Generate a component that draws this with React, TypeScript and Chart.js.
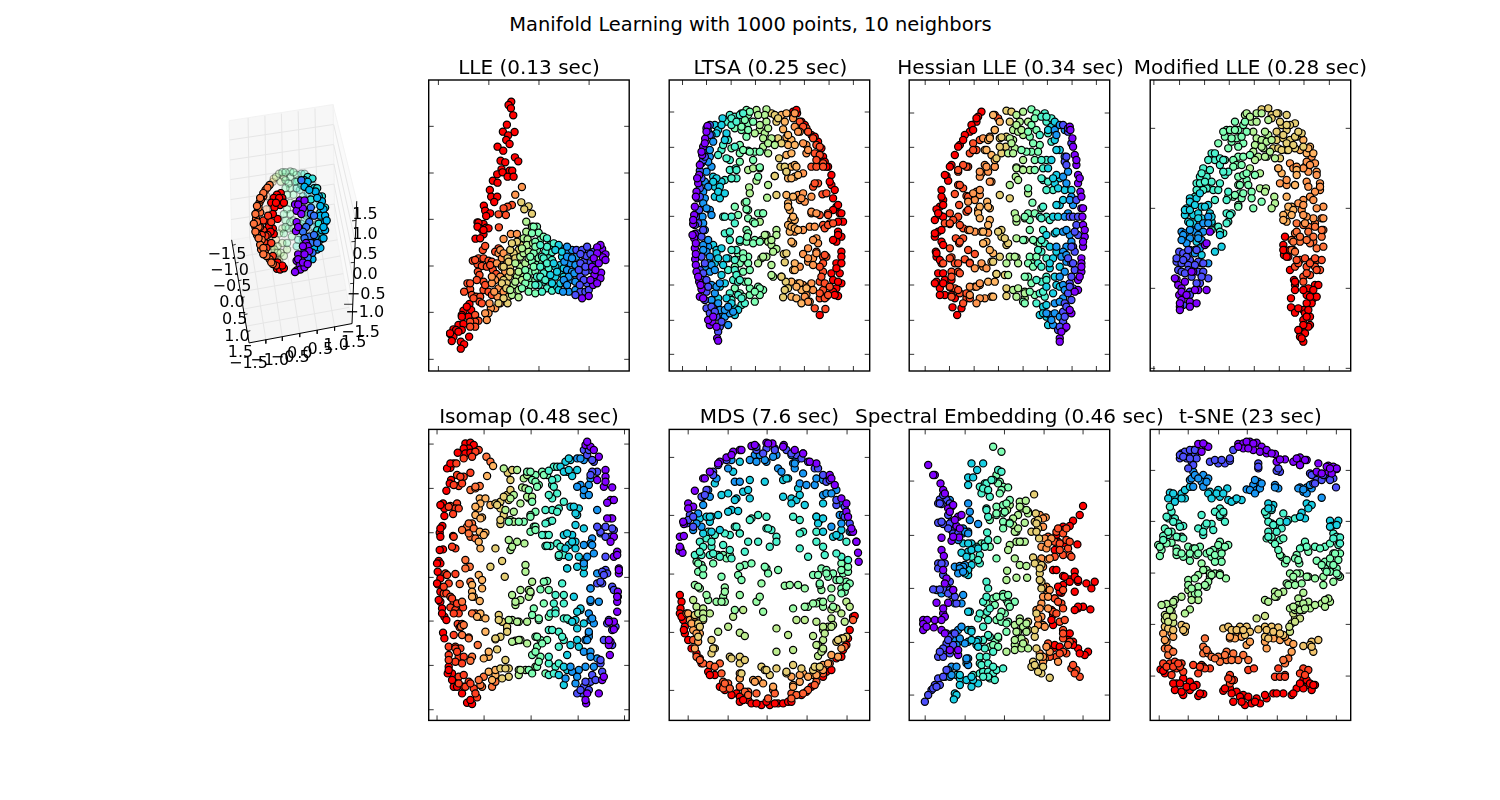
import React, { useEffect, useRef } from "react";
import { Chart, registerables } from "chart.js";
Chart.register(...registerables);

const FONT = '"DejaVu Sans", sans-serif';
const mainTitle = "Manifold Learning with 1000 points, 10 neighbors";

// Every band: [colour position, x, y, x, y, ...].
const lleBands = [
[0,545,597,555,613,547,622,555,630,540,585,530,592,542,668,540,685,522,675,485,745,505,738,518,705,530,700,530,610,520,625,535,640,515,650,525,660,510,690],
[0.1,505,605,520,605,525,640,505,640,490,635,510,660,520,690,500,700,480,725,495,725,505,720,480,680,495,665,468,600,485,600,498,618,480,640,500,590,510,612,495,650,480,612,475,660,490,690,478,705,465,735],
[0.2,445,605,468,620,450,640,465,645,440,660,455,665,470,670,450,690,465,695,435,700,445,725,428,725,465,720,432,635,440,620,455,600,440,590,455,625,445,680,430,690,462,670,440,705],
[0.3,420,595,438,597,425,620,420,645,405,650,420,670,430,680,405,680,410,710,415,720,390,675,395,700,415,585,405,600,425,605,430,655,400,640,410,665,420,700],
[0.4,395,607,380,565,390,585,375,605,385,625,395,630,365,620,375,645,360,650,385,655,370,670,370,695,380,715,395,722,350,680,355,705,365,725,400,580,380,590,360,585,370,625,390,680,380,640,360,680,345,705,375,690],
[0.5,350,530,340,530,355,548,360,570,345,575,350,600,340,610,355,625,335,635,350,645,330,665,345,665,328,690,345,690,330,705,315,700,325,725,345,730,370,560,335,550,345,590,365,640,330,620,315,660,340,650,320,680,305,715],
[0.6,318,515,335,530,318,545,310,565,322,568,300,620,310,610,325,605,300,650,290,680,280,705,295,720,275,735,295,742,320,585,338,580,315,640,310,680,325,625,305,595,285,640,295,665,305,690,270,720,285,695],
[0.7,300,585,290,575,295,600,280,610,270,600,262,625,270,650,280,670,265,680,250,690,260,700,265,740,262,760,250,745,235,760,335,491,325,469,312,478,303,457,290,640,275,580,285,625,265,635,250,650,245,700,258,715,270,665],
[0.8,250,567,272,552,290,552,235,610,245,625,230,640,245,650,260,640,255,665,240,680,225,690,215,700,235,715,250,725,232,740,240,760,225,775,212,775,205,790,195,790,200,810,305,411,285,434,240,600,215,680,222,725,208,760,250,610],
[0.9,158,632,175,625,190,625,205,632,172,643,185,648,200,650,173,665,178,675,215,635,235,595,225,605,218,660,228,672,190,695,142,700,150,718,132,725,155,735,168,740,180,740,190,720,205,725,215,735,178,755,275,465,262,470,250,475,235,493,257,495,236,532,188,600,195,588,165,795,175,812,165,815,150,815,165,830,150,830,210,645,165,630,150,700,160,745,195,705,170,690,185,760],
[1,273,155,265,165,272,175,279,196,260,224,248,245,283,246,264,256,258,270,268,282,232,290,249,302,241,332,284,322,294,334,255,337,244,358,268,362,276,362,231,373,247,367,262,380,280,380,218,392,232,398,209,420,213,440,231,440,222,456,191,467,195,482,210,490,198,498,172,517,190,522,198,533,184,537,205,535,190,553,166,566,180,565,148,762,130,782,153,780,125,795,145,800,115,825,130,822,100,838,90,852,108,840,125,840,100,860,95,873,147,860,122,875,132,883,122,896,90,850,115,845,125,800,140,770,175,518,172,530,190,540],
];
const ltsaBands = [
[0,143,228,136,266,127,315,130,290,118,375,115,400,110,425,105,470,103,495,100,522,105,552,103,565,105,595,106,628,108,645,110,665,118,695,125,718,120,740,150,825,172,865,175,872,158,815,170,830,140,245,135,280,125,305,120,345,112,385,108,440,100,510,98,555,108,580,108,612,115,680,122,705,130,745,145,810,160,800],
[0.1,145,245,150,225,125,340,130,330,120,362,112,445,120,440,118,480,108,500,115,520,120,552,112,550,125,560,120,660,130,670,128,690,140,725,135,750,140,775,150,790,160,775,170,800,180,830,175,845,140,235,150,255,135,320,125,385,120,415,105,525,130,540,125,620,135,640,140,690,145,710,155,770,165,785,185,815],
[0.2,155,255,135,300,150,320,155,350,135,395,145,410,130,425,135,445,150,480,128,500,145,590,130,585,140,605,150,620,145,640,150,665,135,650,155,705,165,730,155,750,175,760,190,795,205,825,195,800,210,790,220,785,160,275,150,300,145,335,140,365,130,460,140,475,155,495,130,520,135,540,145,570,130,600,155,645,165,660,170,710,180,700,180,780,195,780,205,770],
[0.3,165,225,175,240,188,205,200,250,160,380,185,395,165,410,165,440,180,410,180,445,160,585,170,600,185,595,165,640,185,675,180,710,175,745,205,790,225,775,235,780,170,250,185,225,195,270,170,385,160,395,175,425,195,430,170,610,175,625,200,625,190,645,195,700,200,745,215,760,225,795],
[0.4,210,195,225,200,200,215,215,225,240,195,185,300,175,315,210,330,200,325,195,390,215,385,230,385,210,360,228,355,190,500,215,500,195,550,210,545,210,570,205,625,225,630,205,660,230,600,220,690,235,695,210,730,210,745,235,735,245,765,255,760,215,205,230,215,250,190,190,285,205,270,225,290,230,360,215,385,195,500,225,520,240,570,215,600,225,660,230,675,240,690,215,750,245,745],
[0.5,260,180,245,190,265,195,240,215,265,220,225,235,200,260,245,240,260,260,240,285,215,295,240,310,265,302,285,305,280,330,225,470,260,455,265,480,235,495,265,505,280,515,260,540,265,550,240,575,260,575,285,570,235,610,265,620,240,640,265,640,225,650,250,665,255,695,225,715,240,730,250,740,270,735,285,755,270,715,295,710,310,720,270,185,255,210,280,215,245,230,265,240,250,300,270,305,300,305,240,335,300,352,295,380,260,478,295,490,310,490,285,520,262,560,280,580,300,575,250,610,250,625,270,660,265,695,300,715,300,735,285,725],
[0.6,290,180,320,178,315,195,295,195,320,215,300,240,285,250,315,250,335,265,310,290,325,310,265,360,280,355,300,355,290,392,325,405,268,412,270,430,255,458,322,443,308,490,300,515,320,555,305,570,350,540,350,555,325,575,335,585,350,597,320,620,305,625,295,640,335,645,340,680,300,225,325,235,310,265,325,280,345,285,315,555,335,570,340,605,310,620,335,675],
[0.7,335,190,345,195,350,215,340,268,355,270,358,325,345,378,362,350,375,350,350,435,372,612,375,637,365,680,378,695,370,742,385,715,355,205,355,265,365,280,345,378,380,365,365,680,380,610,375,720],
[0.75,365,195,380,190,370,238,380,262,395,270,385,285,380,315,395,310,380,365,395,350,405,345,385,385,405,380,380,435,385,460,390,480,395,510,405,510,385,525,390,545,400,580,405,640,400,660,395,695,415,700,395,740,410,745,425,760,375,215,385,255,405,285,395,385,410,350,415,375,400,440,385,470,400,500,395,530,405,535,415,540,395,575,405,660,420,700,425,720,410,710,440,715],
[0.8,400,205,405,230,420,245,440,285,440,310,430,370,415,435,430,430,455,440,420,450,435,455,455,490,405,545,430,540,450,530,470,565,475,580,445,595,430,612,445,635,460,625,420,650,430,705,445,710,440,735,450,755,405,190,415,245,430,280,445,300,425,445,455,485,470,490,465,530,460,570,470,610,445,625,460,645,455,700,460,720,435,740,445,755],
[0.9,420,215,440,235,470,285,465,310,480,315,455,350,470,350,490,340,460,410,475,400,488,433,480,495,505,490,490,525,510,520,470,605,490,620,500,620,490,640,490,665,480,695,490,720,480,745,500,740,465,775,497,777,430,230,445,245,460,265,480,290,470,330,490,350,465,400,500,430,505,495,495,535,505,525,520,520,495,615,480,650,485,680,495,700,510,710,480,730,495,745,505,735],
[1,400,185,412,190,425,215,455,255,475,275,490,320,505,350,515,375,515,405,520,445,530,470,540,490,550,515,535,545,545,560,530,575,545,605,545,620,530,640,515,670,540,670,545,700,530,715,520,725,535,738,480,795,410,180,400,195,435,225,445,245,465,260,485,295,495,335,500,350,510,395,525,420,535,465,520,480,545,490,535,515,535,555,520,570,545,640,530,655,520,690,535,695,525,735],
];
const hessianBands = [
[0,510,230,518,265,525,315,530,345,535,375,535,400,542,425,545,475,548,500,550,525,555,560,550,590,545,625,545,640,545,665,535,690,535,720,515,790,500,830,480,865,480,875,512,240,520,290,530,330,540,385,545,440,550,475,555,540,550,575,545,650,540,680,525,725,510,780,485,845],
[0.1,490,225,505,245,495,335,500,345,510,500,520,500,530,525,535,555,520,590,525,605,515,640,525,660,510,700,520,715,505,730,515,750,495,760,490,785,490,815,495,835,475,840,505,235,515,280,500,320,530,450,535,500,525,545,515,590,505,625,520,640,515,680,510,710,500,770,495,800,480,830],
[0.2,465,240,480,225,495,320,490,380,515,440,520,465,505,490,490,545,510,555,500,590,490,605,470,590,500,635,495,665,490,705,490,745,465,760,450,795,440,790,460,825,495,240,470,255,505,365,500,400,510,450,495,500,500,540,515,575,485,620,500,615,480,680,495,720,480,755,465,790,480,800,455,810],
[0.3,455,230,465,270,480,300,455,330,480,385,465,400,495,420,515,420,480,465,470,465,460,500,465,550,440,555,460,625,480,650,450,655,465,680,470,705,440,710,430,770,420,795,440,800,465,215,445,240,470,300,445,355,470,375,460,385,475,415,490,450,475,500,470,545,450,590,470,605,450,640,480,710,460,730,440,765,430,790,445,825],
[0.4,435,190,440,215,455,205,445,250,440,330,430,355,430,390,445,395,460,420,430,470,420,500,440,500,430,540,435,580,440,625,425,605,440,680,425,695,420,730,435,740,410,760,425,200,440,200,420,255,455,275,425,330,425,385,440,420,425,505,450,510,425,570,415,600,415,640,425,650,440,690,410,690,430,725],
[0.5,395,178,410,190,395,225,410,240,390,260,420,285,395,305,415,305,405,330,385,415,398,458,425,475,385,490,390,510,390,540,410,575,420,580,390,620,395,640,385,680,395,700,405,735,370,755,405,205,385,245,400,280,380,305,365,300,405,360,375,500,405,490,370,570,400,570,385,640,410,620,400,650,375,680,390,725,375,760],
[0.6,370,185,350,195,360,215,385,215,370,255,340,240,355,245,340,270,345,295,325,310,370,330,350,352,368,358,390,360,348,380,355,390,345,490,350,515,375,505,350,565,375,570,330,620,350,622,355,640,340,720,355,715,375,725,350,740,375,745,350,225,365,240,330,265,335,280,340,310,350,355,370,360,330,405,385,430,350,505,320,640,345,620,325,675,375,730],
[0.7,320,182,335,185,320,260,300,265,318,290,290,325,305,310,330,445,300,435,320,585,305,540,305,560,325,580,315,675,320,715,320,738,330,215,305,262,300,290,295,545,315,565,300,620,280,635,290,672],
[0.75,280,195,300,215,285,240,265,270,255,300,275,315,262,455,270,475,240,470,235,490,240,505,270,510,265,525,250,580,280,610,275,635,290,672,265,695,285,695,280,740,285,240,270,265,285,330,260,300,265,470,250,545,260,575,250,580,270,600],
[0.8,250,265,270,260,255,345,285,350,245,370,265,365,240,380,275,395,230,425,240,435,225,450,205,455,225,545,245,545,265,548,250,650,225,655,245,640,240,705,225,710,210,710,255,745,240,745,230,760,210,735,240,365,260,350,270,395,285,350,220,430,240,420,235,480,210,540,260,655,230,710,240,700,275,740],
[0.9,285,195,295,205,230,300,210,310,220,280,205,350,175,365,175,405,190,415,165,432,200,438,178,465,150,490,175,500,200,485,135,520,150,522,190,535,205,540,168,565,190,565,150,595,178,580,205,600,225,612,155,622,195,628,210,638,130,640,165,640,155,665,175,665,200,745,150,712,165,715,180,730,155,740,200,730,240,270,220,300,200,350,190,345,175,360,180,405,205,440,205,480,160,510,180,525,150,520,180,575,150,625,175,640,210,640,180,670,155,680,150,710,175,720,190,760,210,745],
[1,245,185,235,200,230,215,215,225,210,245,195,255,180,285,165,315,155,345,140,378,145,392,125,420,130,450,120,470,110,478,105,510,120,495,130,500,115,545,105,560,125,575,108,605,110,620,125,640,115,670,130,670,110,695,120,715,135,690,155,690,135,735,158,772,172,795,185,775,165,745,230,205,220,240,190,270,175,290,150,350,135,375,125,440,130,465,115,490,125,540,105,550,130,585,110,610,120,630,105,700,130,700,120,735,155,735],
];
const modifiedBands = [
[0,110,688,115,705,125,715,118,735,125,750,120,770,120,780,150,755,170,760,150,770,200,720,160,665,195,585,210,545,175,720,135,695,105,685,125,725,120,760,140,735,155,665,165,720,200,580],
[0.1,118,605,110,635,125,640,115,660,125,665,150,630,145,645,155,680,175,665,185,640,130,610,140,620,205,685,180,700,190,665,175,635,170,700,150,725,130,765,110,625,130,630,145,660,135,670,165,645,190,640,185,680,150,735,170,600,145,600],
[0.2,125,545,130,570,150,565,165,545,175,530,190,520,205,500,150,600,165,600,180,595,190,545,205,640,135,550,185,570,130,555,150,540,175,555,140,580,150,605,175,565,205,520,125,570,165,610],
[0.3,140,475,150,445,135,495,145,515,160,495,175,490,170,445,185,470,205,465,180,430,165,540,215,515,225,605,245,590,185,615,170,575,150,455,135,480,150,480,160,520,165,465,195,470,210,490,185,505,150,520,175,505,215,500,240,555],
[0.4,190,355,180,380,170,400,190,400,200,380,210,360,215,310,225,330,240,325,205,415,220,420,235,420,225,450,255,375,265,365,265,425,260,450,260,490,275,490,235,530,250,550,265,515,215,540,185,370,180,400,200,415,215,395,240,345,225,310,205,330,195,395,240,400,250,330,250,365,270,495,260,520,240,545,215,520,190,420,170,420,165,440],
[0.5,260,240,255,260,235,280,275,275,265,295,285,215,295,240,310,225,290,265,310,280,320,245,295,320,280,330,255,330,290,345,305,345,295,380,320,390,295,405,325,405,300,430,280,440,305,445,295,465,335,425,335,445,340,475,365,455,250,245,270,240,285,240,315,215,305,260,275,265,295,290,310,320,330,315,280,350,310,375,320,370,345,375,300,405,265,440,285,435,310,430,295,470],
[0.6,315,195,335,215,350,190,340,245,350,265,345,285,365,270,340,305,355,320,345,375,360,370,330,355,360,415,378,415,375,425,403,440,405,460,395,475,385,255,370,295,380,320,320,190,330,200,350,215,365,190,385,210,375,245,380,275,365,290,345,330,390,305,405,325,375,320,395,270],
[0.7,365,178,385,175,395,195,415,190,440,195,425,225,410,245,440,240,465,220,450,225,410,270,430,265,420,325,400,295,415,295,440,300,450,270,470,260,485,250,465,295,410,190,395,205,420,215,440,225,430,255,440,280,465,260,460,285,425,300,445,300,490,290,475,245],
[0.75,490,270,510,290,480,300,500,310,440,440,455,470,445,485,430,495,440,515,415,355,425,370,470,360,465,405,505,295,520,310,445,470,460,480,455,495,430,510,415,355,470,375],
[0.8,515,320,525,340,495,350,505,365,530,365,450,340,460,355,420,400,440,405,500,395,505,410,540,400,540,420,525,425,510,440,490,450,475,460,485,480,520,505,500,500,550,470,530,475,530,375,500,335,510,345,490,355,440,390,465,405,470,350,540,410,490,465,520,450,490,495,495,520,550,505],
[0.85,545,505,525,520,550,540,505,530,470,520,490,525,545,560,520,575,510,580,530,595,550,590,465,550,480,575,455,570,455,600,465,605,525,530,505,545,545,540,520,560,470,545,480,560,460,575,500,570],
[0.9,480,630,465,650,500,650,515,635,530,630,545,630,525,650,540,660,490,680,510,675,495,625,475,640,470,630,510,640,525,625,530,660,500,670,490,695],
[1,430,585,435,600,432,615,445,620,450,660,462,690,465,705,465,720,505,715,525,705,535,705,500,735,520,745,515,760,500,760,490,780,453,745,453,772,465,788,495,790,510,800,490,810,510,825,490,835,480,845,495,850,480,860,490,875,435,560,460,600,440,620,430,600,450,600,465,695,490,720,520,720,530,740,510,740,505,780,475,775,500,800,505,830,490,825,485,865,475,840],
];
const isomapBands = [
[0,495,135,510,140,520,150,535,170,555,210,555,230,550,260,575,262,570,300,560,308,570,355,575,355,580,410,570,425,590,455,580,470,595,505,595,520,592,575,592,590,590,605,590,635,580,665,580,688,570,725,565,735,568,765,545,840,535,880,497,910,500,880,500,125,530,240,555,245,580,300,560,355,590,465,595,510,590,590,565,665,565,720,550,830,495,900],
[0.1,490,150,500,165,520,185,530,215,515,215,540,395,555,380,580,390,570,410,555,470,555,510,560,520,545,515,545,550,530,550,575,560,565,660,585,680,550,720,575,735,540,790,545,815,510,845,490,860,505,870,485,880,470,880,515,825,505,150,515,180,510,225,530,380,575,385,555,410,550,525,540,545,580,570,560,670,575,690,540,780,525,840,495,845,480,870],
[0.2,470,175,490,180,510,235,505,255,480,255,490,285,530,330,540,400,515,415,510,430,490,435,520,460,530,520,510,565,510,605,535,605,505,640,510,660,520,670,505,700,505,710,495,720,490,755,510,755,530,775,495,800,475,810,455,815,465,850,435,835,480,175,470,260,490,270,505,285,535,385,515,435,500,470,490,490,510,600,515,655,505,695,500,720,510,770,520,800,470,830,450,800],
[0.3,450,180,435,185,420,200,440,215,470,210,455,228,450,320,475,325,470,345,465,375,490,385,430,405,455,405,465,425,445,435,435,445,475,470,490,485,490,520,510,565,460,590,480,630,465,660,490,670,470,685,450,735,440,765,440,810,415,825,430,855,445,175,430,215,445,210,460,320,465,340,440,400,455,425,465,445,445,470,440,505,490,500,470,500,480,625,470,635,455,665,470,720,475,740,430,800],
[0.4,400,200,385,212,410,235,395,255,410,280,395,295,430,305,415,325,395,330,375,330,385,365,395,362,365,405,385,405,375,438,390,438,410,430,415,470,440,505,430,585,425,550,405,585,430,610,405,630,390,640,430,655,445,660,385,690,415,695,430,720,415,740,385,790,405,800,385,825,410,200,395,240,400,260,385,285,410,335,375,370,380,437,420,440,430,465,415,465,400,610,405,640,440,655,395,690,425,710,385,770,415,790,400,820],
[0.5,320,215,345,225,365,215,380,225,355,255,335,240,325,270,335,305,345,335,330,345,340,380,310,365,295,365,265,365,380,543,370,545,360,568,385,570,370,610,340,625,335,645,355,660,385,650,345,710,360,720,380,720,350,740,335,765,360,770,350,800,325,810,375,820,330,215,370,225,345,245,350,260,330,350,345,380,330,395,345,390,375,405,355,655,350,710,365,730,345,755,355,785,335,820],
[0.6,310,235,305,262,325,295,280,285,300,310,280,335,255,330,270,360,265,420,290,425,312,430,270,450,315,495,315,515,335,545,325,570,330,580,275,585,300,600,285,615,320,665,295,665,275,660,285,722,300,720,320,730,295,810,295,825,315,810,345,800,250,205,290,210,270,295,320,225,315,265,320,290,335,290,280,365,275,440,300,570,285,605,325,590,330,575,265,660,290,665,275,725,295,720,300,810],
[0.7,262,218,270,240,260,285,270,270,240,305,225,310,250,345,240,372,225,445,245,483,210,500,253,530,235,645,245,665,240,710,225,718,230,748,255,780,265,805,265,830,245,835,240,805,275,210,265,300,250,290,240,325,240,360,230,315,260,680,260,695,235,660,225,715,255,805],
[0.75,218,198,200,228,178,295,195,295,175,325,165,345,185,352,178,395,195,398,180,445,175,525,185,540,155,555,155,575,160,590,185,565,178,603,180,650,195,655,205,770,190,775,205,815,225,825,260,690,180,310,210,315,165,320,180,355,190,405,175,425,155,590,180,640,170,650,195,695,205,755,225,810,215,840],
[0.85,198,170,210,185,150,270,165,265,178,258,140,380,125,390,155,370,150,410,165,415,118,552,135,480,148,500,122,680,130,675,145,712,125,705,155,770,150,782,172,735,165,640,155,640,190,830,185,860,180,855,215,860,225,845,165,260,145,370,145,400,160,385,150,545,135,505,125,605,145,715,175,840],
[0.92,175,150,165,155,155,170,130,175,108,190,130,230,115,258,125,250,150,218,110,310,90,318,105,325,115,325,98,342,105,445,95,440,98,408,105,522,75,520,85,550,70,580,78,580,90,590,100,608,90,622,105,630,128,622,115,640,112,672,125,672,118,682,100,705,85,740,105,740,120,745,115,770,130,770,85,765,105,785,125,790,115,830,130,825,145,845,135,860,160,865,170,892,110,225,100,255,120,230,85,320,100,410,80,525,70,560,95,595,110,610,100,640,105,745,110,755,85,780,115,850,150,850,165,880],
[1,135,130,150,128,160,135,145,145,130,145,135,160,112,158,150,158,90,203,100,190,92,240,88,250,78,272,68,310,72,325,72,348,66,378,58,398,60,410,68,448,58,450,55,483,60,490,52,515,60,535,52,553,60,575,60,605,65,625,72,650,78,660,68,698,72,715,85,800,95,820,82,820,100,860,125,880,140,908,155,912,150,900,80,205,90,190,60,315,60,385,50,490,50,550,55,600,65,640,85,810,95,840,110,860,130,860],
];
const mdsBands = [
[0,62,445,58,452,68,458,60,410,72,408,72,372,85,310,100,320,105,272,130,235,150,215,180,185,200,172,220,155,240,150,275,138,285,135,320,128,338,130,372,135,405,150,430,160,470,190,510,225,525,255,545,295,560,335,565,350,580,395,590,425,595,458,597,485,85,325,70,365,60,440,135,235,175,190,215,165,245,150,325,130,370,140,430,160,450,185,515,235,560,310,575,385,590,425],
[0.1,90,345,80,370,100,380,125,290,140,270,160,215,175,195,290,150,320,145,345,145,380,150,410,165,445,185,465,205,490,225,500,245,530,315,555,320,570,370,85,360,100,350,135,285,160,225,200,180,290,140,310,160,345,150,395,160,425,175,475,205,510,240,530,300,555,350],
[0.2,100,390,125,380,115,340,130,315,150,290,170,235,205,205,225,245,240,245,285,165,300,165,320,185,350,165,395,165,400,190,355,205,365,215,405,205,430,220,420,250,440,255,465,255,490,285,500,280,530,270,540,345,545,370,570,395,515,380,110,370,130,290,145,270,215,180,270,180,290,185,315,180,340,170,410,180,405,190,470,235,490,240,515,280,545,310,550,345,575,395],
[0.3,120,355,155,350,150,365,130,400,180,390,165,250,220,215,240,185,270,240,315,245,370,240,385,235,415,265,370,290,395,295,410,300,435,315,395,310,490,310,470,350,480,360,540,410,520,410,545,390,490,395,215,330,235,333,205,335,230,295,250,275,265,270,270,295,140,350,150,350,155,395,175,345,185,285,205,280,225,300,380,235,420,285,470,350,475,370,490,355,530,405],
[0.4,120,425,140,415,155,440,125,465,105,465,150,465,180,470,210,405,225,380,240,400,265,425,275,355,295,345,320,350,320,385,335,390,350,410,350,425,330,440,295,425,400,350,420,360,430,395,420,445,445,470,470,425,490,440,495,465,560,425,545,470,565,480,530,460,255,455,190,435,210,450,215,475,165,405,145,395,130,440,155,425,120,455,160,460,195,400,240,400,230,380,270,360,325,385,420,400,470,395],
[0.5,110,485,125,495,115,515,130,525,160,490,190,465,175,465,200,475,255,495,275,490,320,505,325,520,355,510,235,525,245,540,185,530,460,525,485,505,500,510,520,520,505,530,480,550,530,540,550,520,565,515,545,490,560,545,570,550,545,565,555,575,545,580,115,490,130,505,170,465,210,465,240,500,315,500,475,525,500,520,545,510,565,500,540,540,560,560],
[0.55,105,555,120,565,195,562,190,590,240,585,290,605,305,550,375,557,390,555,435,565,485,570,515,595,515,565,480,605,470,610,490,620,445,620,435,620,400,625,195,605,170,605,145,600,140,585,225,630,310,635,460,610,115,560,195,575,185,605,300,590,415,555,480,555,520,620,490,605],
[0.62,100,600,110,620,130,625,150,640,220,650,250,630,515,628,530,625,545,640,560,605,570,620,410,660,435,660,470,665,515,655,520,675,490,690,505,680,555,665,350,685,205,680,175,695,240,698,255,708,385,705,460,708,490,720,475,735,400,750,350,755,475,768,485,755,115,640,130,640,130,655,490,680,515,680,495,700,470,735,490,745],
[0.7,105,645,125,645,130,660,115,670,155,720,165,745,155,760,210,770,240,770,240,790,255,780,305,800,350,805,315,810,330,825,400,795,380,820,425,805,460,810,490,750,545,715,560,710,530,725,120,680,115,710,160,745,215,775,245,820,320,810,380,815,465,800,480,800,550,715,535,720],
[0.78,85,640,90,660,100,690,120,700,115,725,105,745,240,820,240,835,280,840,295,840,310,850,340,860,395,830,420,845,400,855,430,820,460,825,475,815,490,795,515,765,545,745,535,770,105,650,95,670,110,700,240,835,285,845,400,860,420,825,445,830,470,825,490,810,505,790],
[0.88,80,640,100,720,110,770,130,790,150,795,180,790,185,820,190,845,205,850,190,865,240,860,265,875,290,880,340,870,325,895,395,880,410,885,445,870,470,845,490,820,510,790,555,740,580,660,120,780,165,800,195,850,210,865,255,875,265,885,345,880,395,895,430,880,465,855],
[1,60,585,65,605,62,625,60,640,70,660,75,680,75,700,85,720,110,760,125,790,145,815,165,825,195,870,230,880,215,885,240,890,265,900,275,910,305,915,330,915,355,910,370,910,385,905,425,885,455,860,500,815,530,775,550,750,565,715,570,690,580,650,585,648,65,650,72,690,95,745,120,775,150,825,180,860,240,905,250,900,290,910,320,905,345,910,395,905,440,875,490,830,515,810,545,770,560,735],
];
const spectralBands = [
[0,85,195,105,225,122,250,130,270,155,320,145,325,175,350,170,378,178,412,155,422,125,413,125,450,132,468,140,535,110,608,145,608,130,640,135,650,70,660,82,660,105,660,70,672,102,682,70,690,125,690,135,700,175,765,100,225,135,280,160,315,150,335,185,345,165,360,180,385,160,410,130,510,135,550,160,570,130,625,125,660,80,680,175,750,150,750],
[0.1,135,290,120,298,140,300,115,310,125,312,145,345,155,365,115,368,130,372,155,390,165,390,115,490,135,490,115,505,130,525,150,545,140,560,135,570,150,570,100,568,120,568,155,585,170,610,165,590,140,700,150,710,140,730,130,760,160,745,150,760,115,770,130,770,75,905,95,870,105,855,115,835,130,830,120,855,130,285,120,310,150,310,150,370,125,365,145,385,160,400,175,400,125,490,160,570,145,580,165,700,160,735,145,720,130,745,120,755,85,885,100,865,110,860,140,810],
[0.2,150,300,190,385,205,395,210,335,205,310,210,360,235,372,190,400,165,500,180,498,195,495,125,580,190,585,165,610,185,610,155,800,145,810,170,800,135,830,150,830,160,700,175,690,185,680,195,730,175,725,205,775,205,795,195,395,175,420,205,400,190,500,180,505,175,520,190,515,110,570,160,720,180,715,170,735,200,780,200,775,155,825],
[0.3,215,190,250,190,232,210,205,232,220,232,205,255,190,430,215,430,205,455,185,458,205,510,205,525,215,495,210,635,205,635,205,690,215,690,235,720,230,735,205,725,170,825,180,835,180,855,165,880,170,885,162,898,200,840,215,860,235,850,205,430,225,445,215,450,235,445,200,470,205,510,195,520,215,695,230,725,235,740,215,720,200,790,220,840,180,825,215,830],
[0.4,240,260,255,250,280,240,295,210,305,215,260,270,245,280,270,290,260,325,265,350,262,397,230,440,255,430,240,465,215,470,240,490,260,545,265,565,235,655,250,605,250,680,262,635,250,720,270,710,280,755,240,770,260,770,240,790,220,825,240,820,250,815,265,815,280,820,290,810,270,835,285,840,310,805,260,250,275,240,250,265,265,270,260,330,255,440,235,480,265,420,260,590,240,640,270,625,265,660,250,720,265,705,255,745,245,795,265,790,280,800,265,830,250,830],
[0.5,280,140,305,155,300,245,310,260,325,262,290,320,310,315,330,300,310,340,290,345,270,360,310,365,330,368,293,420,270,440,245,430,290,475,255,645,280,595,285,615,260,610,310,582,320,600,345,605,325,610,315,640,290,660,305,665,320,695,295,715,270,740,285,725,295,710,290,225,295,250,305,270,300,280,320,310,315,335,290,340,330,370,310,385,290,590,310,590,325,585,330,620,305,635,300,650,325,665,320,670,280,735,295,740],
[0.6,330,315,322,330,360,305,378,302,365,325,340,375,350,395,375,368,385,340,350,425,365,425,330,435,325,450,345,475,360,495,380,498,322,512,320,540,350,533,382,533,360,655,345,675,355,695,378,690,365,715,345,735,320,755,345,750,365,745,385,745,360,320,380,330,355,345,345,395,375,425,355,385,360,425,340,355,360,665,370,680,380,695,350,695,370,730,380,670,345,720],
[0.7,403,283,385,335,408,340,405,365,415,385,395,395,418,415,400,472,415,490,425,495,420,520,425,545,385,665,385,690,375,725,405,710,400,785,420,805,425,820,450,833,410,745,415,360,410,395,410,370,405,490,420,505,420,540,425,565,410,640,405,690,395,800,405,795,415,815,430,800,420,770],
[0.8,420,345,438,352,430,380,425,440,440,445,425,475,445,478,440,560,430,560,440,585,425,610,410,630,425,650,430,675,415,675,420,760,435,775,430,785,475,785,430,590,430,355,435,415,455,415,445,430,450,475,430,500,450,570,445,590,420,625,445,625,415,655,435,680,430,770,450,755,440,740],
[0.9,470,395,445,410,465,425,490,400,480,430,465,470,490,465,510,465,515,470,490,570,465,595,485,610,490,625,460,635,480,665,490,690,490,715,510,725,470,770,500,760,515,805,530,810,540,830,450,770,445,730,490,755,475,385,500,385,500,420,480,450,505,445,510,425,465,595,475,605,470,640,495,660,490,700,505,735,480,760,520,795,525,820],
[1,550,318,540,345,520,362,510,378,490,380,470,405,465,450,533,433,460,510,470,510,525,515,490,528,510,538,535,545,585,545,560,550,575,565,525,575,490,555,485,578,455,630,535,625,550,620,572,628,460,675,510,700,520,725,535,745,565,755,555,765,540,760,460,745,490,390,475,425,495,430,480,575,495,530,510,545,525,530,535,540,475,560,535,620,525,630,505,720,520,735,460,645,455,660,465,735,480,740],
];
const tsneBands = [
[0,175,132,195,135,205,140,185,155,295,132,310,130,330,125,350,128,365,140,310,145,340,150,360,155,380,160,405,162,410,185,435,178,460,185,480,172,500,180,480,195,535,190,565,197,580,200,590,207,530,215,565,215,575,220,190,130,295,140,320,125,340,130,325,145,380,150,395,160,420,178,470,175,495,180,480,195,560,200,590,205,570,205,545,220],
[0.1,125,160,145,165,160,150,165,165,120,175,140,175,155,185,170,175,160,195,210,185,235,190,255,190,270,182,280,150,355,190,355,205,420,215,410,212,510,220,530,240,545,240,520,250,555,225,580,235,588,262,135,155,150,150,120,165,165,150,130,170,150,175,145,205,225,180,245,180,270,175,355,200,415,205,515,225,550,225,570,240,525,250],
[0.2,160,215,150,240,160,260,190,225,205,235,185,245,190,260,355,245,340,255,320,268,350,270,360,265,405,255,415,265,480,262,500,262,515,265,490,275,500,280,545,293,155,235,165,225,175,235,200,245,345,240,365,250,330,270,345,280,405,262,475,265,510,255,490,268],
[0.3,90,278,105,290,125,280,135,270,85,295,105,305,135,295,210,275,235,270,262,265,240,290,215,290,205,280,265,300,285,300,305,300,400,315,385,310,500,310,515,315,485,338,495,355,570,362,595,362,575,378,100,280,125,295,150,260,230,280,215,295,250,280,275,305,290,295,395,325,385,325,505,325,480,350,440,365,570,380,590,375],
[0.4,95,335,85,355,105,355,115,370,130,378,185,345,240,325,225,335,250,340,240,350,255,365,215,372,195,378,175,385,190,405,220,390,380,345,375,335,395,330,430,340,445,360,465,355,395,370,410,375,425,385,385,395,580,400,590,410,600,412,90,320,80,350,100,365,120,380,240,345,250,335,200,370,190,395,385,365,400,375,420,365,480,350,410,395,385,410,580,415,600,430],
[0.45,75,385,95,395,85,405,70,408,125,410,115,412,380,415,395,420,420,420,405,432,415,450,495,425,525,440,555,440,570,430,595,435,85,395,70,420,110,410,130,415,395,410,430,415,500,440,480,445,540,445],
[0.5,55,435,70,430,95,428,65,450,60,468,110,445,110,465,130,470,150,482,145,440,160,445,180,440,150,460,170,465,200,460,215,470,240,425,265,435,245,450,220,450,240,470,245,485,225,485,435,490,425,470,470,465,490,440,505,455,478,490,465,475,600,460,580,460,595,480,530,482,555,485,570,490,555,505,570,515,590,505,595,525,60,440,80,430,110,455,125,460,165,445,175,460,210,455,225,465,235,435,245,460,255,440,440,480,420,465,475,480,580,495,570,475,560,515,590,520,545,495,585,460],
[0.55,185,490,175,525,200,510,225,520,240,520,258,535,210,530,145,540,145,555,175,560,200,560,165,580,205,545,240,525,450,520,480,520,505,530,525,535,550,530,550,555,580,545,440,550,460,545,485,550,600,530,190,510,210,520,165,535,155,565,175,580,215,525,195,555,470,520,460,530,445,555,500,530,465,555],
[0.6,125,590,145,570,170,575,155,585,175,600,105,600,100,615,80,612,65,615,150,628,135,640,375,600,385,605,405,575,430,575,410,590,475,595,490,578,505,605,475,615,450,625,465,630,490,630,545,610,570,605,555,620,565,595,510,625,490,610,155,600,100,605,90,630,405,590,415,580,470,625,480,630,460,620,525,615,555,600,495,625],
[0.65,75,645,75,660,95,635,90,660,100,668,350,655,375,648,465,655,455,670,480,655,450,695,448,680,80,650,85,665,100,650,460,640,465,665],
[0.72,75,680,95,685,250,685,265,680,300,680,320,680,330,695,315,705,125,675,138,680,135,695,355,688,375,680,395,680,415,682,430,705,515,725,535,720,510,735,490,738,520,755,375,710,385,715,85,685,100,690,275,690,290,690,310,690,380,690,400,695,130,690,420,700,515,740],
[0.78,70,700,95,700,80,725,270,715,290,710,305,710,320,735,330,725,380,745,375,725,410,710,420,720,445,725,460,732,455,755,75,720,100,710,285,715,270,710,400,715,435,710],
[0.85,75,745,90,750,85,765,195,715,190,740,190,760,205,760,215,770,235,770,260,755,280,760,295,780,260,780,310,765,240,785,325,780,445,775,435,790,430,780,85,745,100,755,200,750,225,775,255,765,275,780],
[0.92,70,790,90,790,105,785,125,790,110,805,95,825,130,815,160,795,185,795,210,805,175,820,190,800,325,810,342,805,415,805,405,830,435,825,490,805,505,810,270,825,282,840,270,850,80,800,100,800,120,800,115,790,195,805,180,800,420,830,435,830,480,820,495,825,275,840,265,835],
[1,62,808,75,820,110,850,130,835,150,845,170,855,105,870,130,885,150,870,175,888,190,882,250,872,270,865,290,875,280,905,310,885,315,915,335,910,350,895,360,910,380,895,400,880,430,880,455,885,470,865,490,840,505,855,525,855,515,870,490,865,70,812,100,850,120,850,125,875,140,860,160,860,180,880,255,865,275,880,300,890,325,890,305,905,345,905,375,885,410,880,460,880,480,850,500,840,510,850,520,855],
];

const panelTitles = ["LLE (0.13 sec)", "LTSA (0.25 sec)", "Hessian LLE (0.34 sec)", "Modified LLE (0.28 sec)", "Isomap (0.48 sec)", "MDS (7.6 sec)", "Spectral Embedding (0.46 sec)", "t-SNE (23 sec)"];
const lleXTicks = [55, 206, 356, 506], lleYTicks = [229, 369, 508, 648, 787, 928];
const ltsaXTicks = [68, 140, 214, 287, 361, 434, 508, 581], ltsaYTicks = [186, 292, 397, 499, 604, 705, 811, 913];
const hessXTicks = [76, 149, 223, 296, 370, 443, 517, 590], hessYTicks = [189, 292, 397, 499, 604, 705, 811, 913];
const modXTicks = [42, 119, 194, 268, 343, 418, 492, 568], modYTicks = [235, 475, 715, 955];
const isoXTicks = [50, 191, 332, 473, 612], isoYTicks = [132, 265, 398, 532, 663, 796, 929];
const mdsXTicks = [85, 205, 322, 442, 562], mdsYTicks = [172, 346, 522, 697, 871];
const specXTicks = [76, 196, 314, 433, 550], specYTicks = [243, 406, 565, 727, 885];
const tsneXTicks = [58, 145, 236, 322, 412, 500, 589], tsneYTicks = [211, 364, 519, 673, 828];

// 3D view
const sphereFront = [
[0,315,370,330,358,345,358,320,390,340,383,320,425,318,453,350,490,355,500,360,515,325,525,320,545,330,560,320,575,332,572,345,565,325,370,335,400,325,440,340,500,345,525,325,540,340,550,315,580,355,555],
[0.15,365,380,360,425,370,520,355,550,345,515,335,295,365,400,350,440,340,455,375,405,360,470,365,490,355,535,385,490,375,465,345,475],
[0.25,390,345,345,295,355,300,345,315,380,330,400,360,405,385,395,405,410,425,400,450,395,480,385,510,385,350,360,325,395,375,410,405,410,450,405,475,395,505,375,505,380,470,370,540,415,420,405,440],
[0.35,355,285,375,320,365,355,395,395,390,430,385,450,370,290,385,320,400,345,410,380,395,460],
[0.85,235,310,222,325,215,345,203,365,197,392,205,395,192,415,190,440,200,440,195,465,210,480,208,510,220,520,235,540,245,555,228,318,208,355,200,380,190,400,195,425,190,455,205,495,215,505,225,530,240,550,215,335,205,350,195,375,185,430,200,475,215,525],
[0.93,215,420,230,405,215,450,220,490,240,490,240,425,228,465,205,440,222,468,225,505,240,535,255,560,245,530,210,465],
[1,270,335,258,340,248,350,275,350,240,365,262,360,268,372,250,380,260,415,230,425,245,445,232,440,248,462,225,493,258,570,268,572,280,568,265,350,280,365,255,365,245,400,238,455,260,550,275,560],
];
const sphereBack = [
[0.3,370,340,375,370,350,440,370,460,385,430,355,335,370,310,360,380,345,460,375,440,355,480],
[0.4,320,300,330,325,345,420,330,460,340,480,320,500,360,400,335,275,345,275,340,345,350,405,335,430,325,480,320,320,335,310,330,390,345,395],
[0.5,275,270,300,268,320,278,300,285,325,295,285,295,300,320,310,340,290,385,300,400,285,420,310,420,295,445,280,460,305,470,290,490,285,270,310,270,315,300,295,305,285,320,290,340,300,365,280,400,300,425,285,440,310,445],
[0.6,255,285,270,300,265,460,275,490,260,500,270,520,250,510,265,275,280,285,275,445,290,510,280,530,260,520],
[0.7,245,300,255,480,240,515,260,535,250,535,248,290,245,500,265,545],
[0.8,225,345,225,385,235,470],
];
const paneWall = [107, 110, 435, 60, 440, 430, 115, 480, 107, 110];
const paneSide = [435, 60, 510, 360, 495, 740, 440, 430, 435, 60];
const paneFloor = [115, 480, 440, 430, 495, 740, 170, 800, 115, 480];
const gridLines = [
[167,102,172,472],[220,95,226,464],[272,88,280,456],[325,81,333,448],[378,72,386,438],
[109,170,436,122],[110,232,437,184],[111,293,438,245],[112,355,438,307],[113,417,439,369],
[172,472,223,790],[226,464,275,782],[280,456,330,770],[333,448,385,760],[386,438,440,750],
[125,535,449,480],[134,590,458,530],[143,642,467,585],[152,695,476,635],[161,748,485,690],
[437,122,507,420],[437,184,505,485],[438,245,503,550],[438,307,501,615],[439,369,498,680],
];
const axisLines = [[115, 480, 170, 800], [170, 800, 495, 740], [510, 360, 495, 740]];
const tickLabels3d = [
["1.5",536,402],["1.0",536,465],["0.5",536,528],["0.0",536,590],["\u22120.5",540,650],["\u22121.0",535,708],["\u22121.5",522,770],
["\u22121.5",100,528],["\u22121.0",108,577],["\u22120.5",116,625],["0.0",116,677],["0.5",125,727],["1.0",132,780],["1.5",143,832],
["\u22121.5",168,866],["\u22121.0",235,856],["\u22120.5",300,845],["0.0",330,835],["0.5",395,822],["1.0",445,810],["1.5",500,800],
];
const tickMarks3d = [
[118,497,128,494],[127,552,137,550],[136,607,146,605],[146,660,156,657],[155,712,165,710],[164,765,174,762],
[223,790,223,802],[275,782,275,794],[330,770,330,782],[385,760,385,772],[440,750,440,762],
[507,420,495,421],[505,485,493,486],[503,550,491,551],[501,615,489,616],[498,680,470,680],
];

const rainbow = (t: number, a = 1) => {
  const r = Math.min(1, Math.abs(2 * t - 0.5));
  const g = Math.sin(Math.PI * t);
  const b = Math.cos((Math.PI * t) / 2);
  return `rgba(${Math.round(r * 255)},${Math.round(g * 255)},${Math.round(b * 255)},${a})`;
};
const pairs = (a: number[]) => {
  const out = [];
  for (let i = 0; i + 1 < a.length; i += 2) out.push({ x: a[i], y: a[i + 1] });
  return out;
};
const bandSets = (bands: number[][], alpha = 1) =>
  bands.map((b) => ({
    data: pairs(b.slice(1)),
    backgroundColor: rainbow(b[0], alpha),
    borderColor: `rgba(0,0,0,${alpha})`,
    borderWidth: 1.2,
    pointRadius: 3.6,
    showLine: false,
  }));

const axesPlugin = (xTicks: number[], yTicks: number[]) => ({
  id: "frame",
  afterDatasetsDraw(chart: any) {
    const { ctx, chartArea: a, scales } = chart;
    ctx.save();
    ctx.strokeStyle = "#000";
    ctx.lineWidth = 0.8;
    const len = 5;
    ctx.beginPath();
    xTicks.forEach((v) => {
      const p = scales.x.getPixelForValue(v);
      ctx.moveTo(p, a.bottom); ctx.lineTo(p, a.bottom - len);
      ctx.moveTo(p, a.top); ctx.lineTo(p, a.top + len);
    });
    yTicks.forEach((v) => {
      const p = scales.y.getPixelForValue(v);
      ctx.moveTo(a.left, p); ctx.lineTo(a.left + len, p);
      ctx.moveTo(a.right, p); ctx.lineTo(a.right - len, p);
    });
    ctx.stroke();
    ctx.lineWidth = 1.4;
    ctx.strokeRect(a.left, a.top, a.right - a.left, a.bottom - a.top);
    ctx.restore();
  },
});

const PAD = 10;
const panels = [
  { title: panelTitles[0], bands: lleBands, xr: [26, 626], yr: [90, 963], xt: lleXTicks, yt: lleYTicks, l: 428.7, t: 80, dx: 0 },
  { title: panelTitles[1], bands: ltsaBands, xr: [28, 630], yr: [90, 963], xt: ltsaXTicks, yt: ltsaYTicks, l: 669.2, t: 80, dx: 1 },
  { title: panelTitles[2], bands: hessianBands, xr: [28, 630], yr: [90, 963], xt: hessXTicks, yt: hessYTicks, l: 909.2, t: 80, dx: 1 },
  { title: panelTitles[3], bands: modifiedBands, xr: [31, 632], yr: [90, 963], xt: modXTicks, yt: modYTicks, l: 1150.2, t: 80, dx: 0 },
  { title: panelTitles[4], bands: isomapBands, xr: [25, 626], yr: [88, 961], xt: isoXTicks, yt: isoYTicks, l: 428.7, t: 429.4, dx: 0 },
  { title: panelTitles[5], bands: mdsBands, xr: [28, 630], yr: [88, 961], xt: mdsXTicks, yt: mdsYTicks, l: 669.2, t: 429.4, dx: 0 },
  { title: panelTitles[6], bands: spectralBands, xr: [28, 630], yr: [88, 961], xt: specXTicks, yt: specYTicks, l: 909.2, t: 429.4, dx: 0 },
  { title: panelTitles[7], bands: tsneBands, xr: [31, 632], yr: [88, 961], xt: tsneXTicks, yt: tsneYTicks, l: 1150.2, t: 429.4, dx: 0 },
];
const PW = 200.5, PH = 291;

function Panel({ p }: { p: any }) {
  const ref = useRef<HTMLCanvasElement>(null);
  const cl = Math.floor(p.l) - PAD, ct = Math.floor(p.t) - PAD;
  const cw = 201 + 2 * PAD, ch = 292 + 2 * PAD;
  useEffect(() => {
    const padL = p.l - cl, padT = p.t - ct;
    const chart = new Chart(ref.current!, {
      type: "scatter",
      data: { datasets: bandSets(p.bands) as any },
      options: {
        animation: false,
        responsive: false,
        events: [],
        layout: { padding: { left: padL, right: cw - padL - PW, top: padT, bottom: ch - padT - PH } },
        plugins: { legend: { display: false }, tooltip: { enabled: false }, title: { display: false } },
        scales: {
          x: { type: "linear", display: false, min: p.xr[0], max: p.xr[1] },
          y: { type: "linear", display: false, reverse: true, min: p.yr[0], max: p.yr[1] },
        },
      },
      plugins: [axesPlugin(p.xt, p.yt)],
    } as any);
    return () => chart.destroy();
  }, []);
  return (
    <>
      <canvas ref={ref} width={cw} height={ch} style={{ position: "absolute", left: cl, top: ct, width: cw, height: ch }} />
      <div style={{ position: "absolute", left: p.l + PW / 2 - 250 + p.dx, width: 500, top: p.t - 25, height: 24, lineHeight: "24px", textAlign: "center", fontFamily: FONT, fontSize: 20, color: "#000", whiteSpace: "nowrap" }}>{p.title}</div>
    </>
  );
}

function View3D() {
  const ref = useRef<HTMLCanvasElement>(null);
  useEffect(() => {
    const line = (a: number[], color: string, width: number, fill?: string) => ({
      data: pairs(a), showLine: true, pointRadius: 0, borderColor: color, borderWidth: width,
      backgroundColor: fill || "transparent", fill: fill ? "shape" : false, tension: 0,
    });
    const sets: any[] = [
      ...bandSets(sphereFront),
      ...bandSets(sphereBack, 0.35),
      ...axisLines.map((a) => line(a, "#000", 1)),
      ...tickMarks3d.map((a) => line(a, "#000", 0.8)),
      ...gridLines.map((a) => line(a, "#e6e6e6", 1)),
      line(paneWall, "rgba(240,240,240,0.8)", 1, "#f7f7f7"),
      line(paneSide, "rgba(240,240,240,0.8)", 1, "#fafafa"),
      line(paneFloor, "rgba(240,240,240,0.8)", 1, "#f5f5f5"),
    ];
    const labels = {
      id: "labels3d",
      afterDatasetsDraw(chart: any) {
        const { ctx, scales } = chart;
        ctx.save();
        ctx.fillStyle = "#000";
        ctx.font = `16px ${FONT}`;
        ctx.textAlign = "center";
        ctx.textBaseline = "middle";
        tickLabels3d.forEach((l: any) => ctx.fillText(l[0], scales.x.getPixelForValue(l[1]), scales.y.getPixelForValue(l[2])));
        ctx.restore();
      },
    };
    const chart = new Chart(ref.current!, {
      type: "scatter",
      data: { datasets: sets },
      options: {
        animation: false, responsive: false, events: [],
        layout: { padding: 0 },
        plugins: { legend: { display: false }, tooltip: { enabled: false } },
        scales: {
          x: { type: "linear", display: false, min: 0, max: 630 },
          y: { type: "linear", display: false, reverse: true, min: 0, max: 930 },
        },
      },
      plugins: [labels],
    } as any);
    return () => chart.destroy();
  }, []);
  return <canvas ref={ref} width={210} height={310} style={{ position: "absolute", left: 190, top: 80, width: 210, height: 310 }} />;
}

export default function App() {
  return (
    <div style={{ position: "absolute", left: 0, top: 0, width: 1500, height: 800, background: "#fff", overflow: "hidden" }}>
      <div style={{ position: "absolute", left: 0, width: 1501, top: 13, textAlign: "center", fontFamily: FONT, fontSize: 19.45, lineHeight: "24px", color: "#000" }}>{mainTitle}</div>
      <View3D />
      {panels.map((p) => <Panel key={p.title} p={p} />)}
    </div>
  );
}
